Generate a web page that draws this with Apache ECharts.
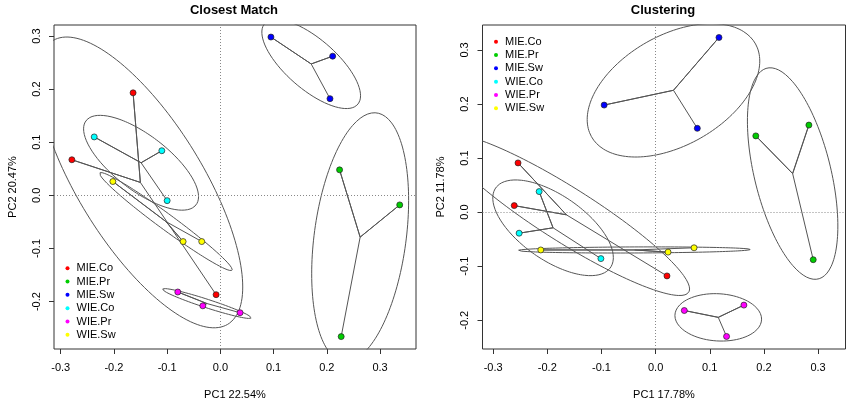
<!DOCTYPE html>
<html><head><meta charset="utf-8">
<script src="https://cdn.jsdelivr.net/npm/echarts@6/dist/echarts.min.js"></script>
<style>html,body{margin:0;padding:0;background:#fff}#c{width:850px;height:405px}</style>
</head><body><div id="c"></div>
<script>
// ---------- data ----------
const groups = ['MIE.Co','MIE.Pr','MIE.Sw','WIE.Co','WIE.Pr','WIE.Sw'];
const groupColors = ['#FF0000','#00CD00','#0000FF','#00FFFF','#FF00FF','#FFFF00'];
const tickValues = [-0.3,-0.2,-0.1,0.0,0.1,0.2,0.3];

// Panel 1: Closest Match (PC1, PC2)
const cmMIECo = [[-0.164,0.193],[-0.279,0.067],[-0.008,-0.187]];
const cmMIEPr = [[0.224,0.048],[0.337,-0.018],[0.227,-0.266]];
const cmMIESw = [[0.095,0.298],[0.211,0.262],[0.206,0.182]];
const cmWIECo = [[-0.237,0.110],[-0.110,0.084],[-0.100,-0.010]];
const cmWIEPr = [[-0.080,-0.182],[-0.033,-0.208],[0.037,-0.221]];
const cmWIESw = [[-0.202,0.026],[-0.070,-0.087],[-0.035,-0.087]];

// Panel 2: Clustering (PC1, PC2)
const clMIECo = [[-0.254,0.091],[-0.261,0.012],[0.021,-0.118]];
const clMIEPr = [[0.185,0.141],[0.283,0.161],[0.291,-0.088]];
const clMIESw = [[0.117,0.323],[-0.095,0.198],[0.077,0.155]];
const clWIECo = [[-0.215,0.038],[-0.252,-0.039],[-0.101,-0.086]];
const clWIEPr = [[0.053,-0.182],[0.163,-0.172],[0.131,-0.230]];
const clWIESw = [[-0.212,-0.070],[0.023,-0.074],[0.071,-0.066]];

const panel1 = [cmMIECo, cmMIEPr, cmMIESw, cmWIECo, cmWIEPr, cmWIESw];
const panel2 = [clMIECo, clMIEPr, clMIESw, clWIECo, clWIEPr, clWIESw];
const titles = ['Closest Match','Clustering'];
const xNames = ['PC1 22.54%','PC1 17.78%'];
const yNames = ['PC2 20.47%','PC2 11.78%'];
const xRanges = [[-0.3126,0.3676],[-0.3196,0.3506]];
const yRanges = [[-0.2893,0.3207],[-0.2532,0.3461]];

// ---------- helpers ----------
const FONT = "'Liberation Sans', Arial, sans-serif";
const ELLIPSE_SCALE = Math.SQRT2;

function centroid(pts){
  let sx=0, sy=0; pts.forEach(p=>{sx+=p[0]; sy+=p[1];});
  return [sx/pts.length, sy/pts.length];
}
function ellipsePath(pts){
  const c = centroid(pts), n = pts.length;
  let sxx=0, syy=0, sxy=0;
  pts.forEach(p=>{const dx=p[0]-c[0], dy=p[1]-c[1]; sxx+=dx*dx; syy+=dy*dy; sxy+=dx*dy;});
  sxx/=(n-1); syy/=(n-1); sxy/=(n-1);
  const a = Math.sqrt(sxx), b = sxy/a, cc = Math.sqrt(Math.max(syy-b*b, 0));
  const out = [];
  const N = 160;
  for (let i=0;i<=N;i++){
    const t = 2*Math.PI*i/N;
    out.push([c[0] + ELLIPSE_SCALE*a*Math.cos(t), c[1] + ELLIPSE_SCALE*(b*Math.cos(t) + cc*Math.sin(t))]);
  }
  return out;
}
function starPath(pts){
  const c = centroid(pts); const out = [];
  pts.forEach(p=>{ out.push(c); out.push(p); });
  return out;
}

// ---------- build option ----------
const grids = [
  {left:54, top:25, width:362, height:325},
  {left:482.5, top:25, width:363, height:325}
].map(g=>Object.assign(g,{show:true, borderColor:'#333', borderWidth:1, backgroundColor:'transparent'}));

const xAxes = [0,1].map(i=>({
  gridIndex:i, type:'value', position:'bottom', min:xRanges[i][0], max:xRanges[i][1],
  splitLine:{show:false}, axisLine:{show:false, onZero:false},
  axisTick:{show:true, inside:false, customValues:tickValues, length:5, lineStyle:{color:'#333'}},
  axisLabel:{show:true, customValues:tickValues, formatter:v=>v.toFixed(1), fontSize:11, color:'#000', fontFamily:FONT, margin:13},
  name:xNames[i], nameLocation:'middle', nameGap:40,
  nameTextStyle:{fontSize:11, color:'#000', fontFamily:FONT}
}));
const yAxes = [0,1].map(i=>({
  gridIndex:i, type:'value', position:'left', min:yRanges[i][0], max:yRanges[i][1],
  splitLine:{show:false}, axisLine:{show:false, onZero:false},
  axisTick:{show:true, inside:false, customValues:tickValues, length:5, lineStyle:{color:'#333'}},
  axisLabel:{show:true, customValues:tickValues, formatter:v=>v.toFixed(1), rotate:90, fontSize:11, color:'#000', fontFamily:FONT, margin:12},
  name:yNames[i], nameLocation:'middle', nameGap:36,
  nameTextStyle:{fontSize:11, color:'#000', fontFamily:FONT}
}));

const series = [];
[panel1, panel2].forEach((panel, pi)=>{
  panel.forEach((pts, gi)=>{
    series.push({
      type:'line', xAxisIndex:pi, yAxisIndex:pi, data:ellipsePath(pts),
      showSymbol:false, symbol:'none', silent:true, clip:true, z:2,
      lineStyle:{color:'#555', width:1}
    });
    series.push({
      type:'line', xAxisIndex:pi, yAxisIndex:pi, data:starPath(pts),
      showSymbol:false, symbol:'none', silent:true, clip:true, z:3,
      lineStyle:{color:'#555', width:1}
    });
  });
  // zero reference lines
  series.push({
    type:'line', xAxisIndex:pi, yAxisIndex:pi, data:[], silent:true, z:1,
    markLine:{silent:true, symbol:'none', label:{show:false},
      lineStyle:{type:[1,2], color:'#888', width:1},
      data:[{xAxis:0},{yAxis:0}]}
  });
  panel.forEach((pts, gi)=>{
    series.push({
      type:'scatter', name:groups[gi], xAxisIndex:pi, yAxisIndex:pi, data:pts,
      symbol:'circle', symbolSize:6, z:5,
      itemStyle:{color:groupColors[gi], borderColor:'#222', borderWidth:0.7, opacity:1}
    });
  });
});

const legendBase = {
  data:groups.map(n=>({name:n})), orient:'vertical', icon:'circle',
  itemWidth:8, itemHeight:4, itemGap:0, padding:0, selectedMode:false,
  itemStyle:{borderWidth:0},
  textStyle:{fontSize:11, lineHeight:13.33, color:'#000', fontFamily:FONT}
};

const option = {
  animation:false,
  backgroundColor:'#fff',
  grid:grids,
  xAxis:xAxes,
  yAxis:yAxes,
  legend:[
    Object.assign({}, legendBase, {left:65.5, top:261.5}),
    Object.assign({}, legendBase, {left:494, top:35})
  ],
  graphic:[
    {type:'text', x:234, y:10.5, silent:true, style:{text:titles[0], font:"bold 13px 'Liberation Sans', Arial, sans-serif", fill:'#000', align:'center', verticalAlign:'middle', textAlign:'center', textVerticalAlign:'middle'}},
    {type:'text', x:663, y:10.5, silent:true, style:{text:titles[1], font:"bold 13px 'Liberation Sans', Arial, sans-serif", fill:'#000', align:'center', verticalAlign:'middle', textAlign:'center', textVerticalAlign:'middle'}}
  ],
  series:series
};

const chart = echarts.init(document.getElementById('c'), null, {renderer:'canvas'});
chart.setOption(option);
</script>
</body></html>
